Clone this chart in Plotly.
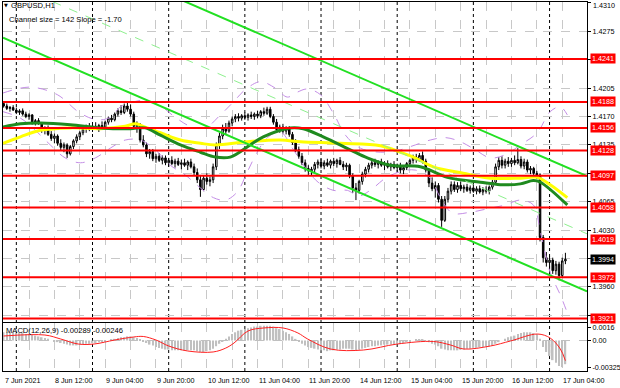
import plotly.graph_objects as go

# ---------------- data ----------------
bar_index = list(range(-4, 174))          # H1 bars, 0 = 8 Jun 00:00
first_open_pips = 14186
close_pips = [14183,14180,14181,14178,14175,14177,14173,14170,14172,14162,14165,14161,14153,14156,14148,14143,14146,14137,14132,14135,
              14124,14133,14140,14145,14150,14155,14157,14154,14158,14156,14159,14157,14163,14168,14166,14173,14177,14175,14183,14179,
              14173,14158,14160,14141,14135,14124,14127,14118,14121,14116,14119,14113,14116,14112,14115,14111,14113,14110,14114,14108,
              14101,14092,14080,14094,14090,14092,14108,14135,14146,14155,14152,14162,14167,14170,14168,14171,14169,14172,14170,14173,
              14171,14176,14174,14179,14170,14163,14154,14157,14152,14155,14148,14138,14129,14121,14113,14106,14103,14105,14111,14114,
              14109,14113,14110,14115,14112,14116,14111,14108,14110,14097,14082,14079,14090,14099,14105,14110,14113,14111,14114,14110,
              14112,14108,14111,14107,14109,14104,14107,14112,14116,14120,14117,14122,14115,14104,14088,14081,14085,14068,14042,14068,
              14078,14086,14080,14085,14081,14083,14079,14082,14078,14081,14077,14080,14078,14083,14089,14108,14116,14110,14115,14112,
              14116,14113,14117,14109,14114,14104,14106,14100,14098,14021,13996,13990,13993,13980,13988,13974,13992,13994]
high_pips = [14189,14186,14183,14184,14181,14179,14180,14176,14174,14173,14167,14168,14163,14158,14159,14152,14149,14148,14142,14138,
             14137,14135,14142,14148,14152,14158,14160,14162,14160,14163,14161,14164,14165,14170,14172,14175,14180,14184,14186,14188,
             14185,14176,14164,14162,14147,14138,14130,14130,14124,14125,14122,14122,14119,14121,14118,14119,14117,14118,14116,14118,
             14112,14106,14097,14097,14100,14096,14112,14138,14150,14160,14162,14165,14170,14173,14174,14173,14175,14174,14176,14175,
             14177,14178,14181,14182,14182,14173,14167,14160,14161,14158,14158,14151,14142,14133,14125,14117,14110,14108,14114,14117,
             14118,14116,14118,14117,14119,14118,14120,14115,14113,14112,14100,14088,14092,14102,14108,14113,14117,14118,14116,14118,
             14115,14116,14113,14115,14112,14113,14110,14114,14118,14123,14124,14125,14127,14118,14106,14095,14090,14088,14072,14072,
             14082,14090,14090,14089,14090,14086,14087,14085,14086,14084,14085,14083,14084,14085,14092,14112,14120,14121,14118,14120,
             14119,14122,14131,14121,14118,14117,14109,14108,14103,14100,14024,14003,13998,13996,13992,13991,13996,14002]
low_pips = [14181,14178,14176,14177,14173,14172,14171,14168,14166,14160,14159,14160,14150,14148,14146,14140,14137,14134,14128,14126,
            14119,14122,14130,14137,14141,14147,14150,14152,14151,14154,14151,14155,14154,14160,14163,14164,14170,14172,14173,14176,
            14170,14155,14150,14138,14132,14120,14118,14115,14113,14114,14111,14110,14108,14110,14107,14109,14105,14108,14104,14106,
            14098,14088,14071,14078,14086,14084,14088,14104,14130,14142,14148,14150,14158,14163,14164,14165,14166,14165,14167,14166,
            14168,14168,14171,14172,14168,14160,14150,14150,14149,14148,14145,14135,14126,14118,14110,14102,14098,14097,14101,14106,
            14106,14105,14108,14106,14109,14107,14110,14104,14103,14094,14076,14067,14075,14086,14095,14101,14106,14108,14106,14108,
            14104,14106,14103,14105,14102,14100,14099,14104,14108,14112,14113,14114,14112,14101,14083,14078,14070,14064,14034,14040,
            14064,14074,14077,14076,14078,14076,14077,14075,14076,14074,14075,14073,14075,14074,14080,14087,14104,14106,14106,14108,
            14108,14110,14111,14106,14105,14101,14099,14097,14093,14016,13990,13985,13978,13976,13975,13968,13972,13988]

macd_hist_e4 = [10,10,10,9,9, 9,9,8,8,7, 6,5,4,3, 2,0,-1,-2,-3,-4,-5,-6,-6, -6,-5,-5,-4,-4,-3,
                -3,-2,-2,-1,0,1,2,3,4,4,5,5,4, 3,1,-1,-3,-5,-6,-8,-9,
                -10,-11,-11,-12,-12,-12,-12,-12,-12,-12,-12,-13,-14,-14,-13,-12,-10,-7,-4,
                -1,2,5,8,10, 12,13,14,15,16,17,17,18,18,18,18,17,15,14,12,
                10,8,5,2,-1,-4,-6,-8,-9, -10,-11,-12,-12,-13,-12,-12,-11,
                -11,-10,-10,-10,-11,-12,-11,-10,-9,-8,-7,-7,-6,-6,-5,-5,-5,-5,-4,
                -4,-3,-2,-1,0,1,1,1,0,-2,-4,-5,-7, -10,-11,-12,-12,
                -12,-12,-11,-11,-10,-10,-9,-9,-8,-8,-7,-7,-6,-4,-2,
                0,2,4,5,6,8,9,10,10,10,9,8,2, -8,-14,-19,-24,-27,-31,-32.5,-28.9]
signal_bars = [-4, 9, 14, 19.5, 24.5, 31, 37, 40, 44, 48, 54, 62, 66, 68.6, 73, 78, 84, 88.7, 91.8,
               99, 109.4, 120, 131.4, 136.8, 141, 149.4, 155.7, 164.2, 168.2, 171.4, 173]
signal_e4 = [5.5, 6.7, 1.8, -4.3, -4.3, 0.6, 4.3, 4.9, 0.6, -6.7, -12.8, -14, -9.2, -3, 11.6, 15.3, 15.3, 9.2, 1.8,
             -10.4, -11.6, -4.3, -1.2, -5.5, -10.4, -6.7, -0.6, 7.9, 3, -10.4, -24.6]

yellow_ma_bars = [-4.2, 1.3, 7.6, 17, 26.5, 34.3, 37.5, 40.6, 45.4, 51.7, 58, 62.7, 72.8, 83.2, 89.5, 102.1, 114.7,
                  121, 125.1, 131.4, 140.8, 149.3, 158.8, 164.1, 168.2, 173.6]
yellow_ma_pips = [14137, 14145, 14153, 14156, 14155, 14158, 14161, 14157, 14150, 14141, 14137, 14135, 14139, 14141, 14139,
                  14137, 14134, 14126, 14120, 14108, 14100, 14094, 14094, 14095, 14086, 14070]
green_ma_bars = [-4.2, 1.3, 7.6, 17, 26.5, 35.9, 40.6, 45.4, 51.7, 58, 62.7, 67.4, 73.7, 77.8, 86.3, 90.4, 96.7, 105.2,
                 110.6, 117.8, 127.3, 135.8, 146.2, 152.5, 158.8, 162.9, 165.1, 173.6]
green_ma_pips = [14157, 14161, 14162, 14160, 14156, 14155, 14156, 14147, 14135, 14126, 14120, 14120, 14135, 14145, 14156,
                 14155, 14145, 14129, 14119, 14110, 14108, 14095, 14089, 14086, 14087, 14091, 14089, 14061]

bb_upper_bars = [-4.2, 1.3, 5.4, 12.9, 20.2, 25.5, 29.6, 32.8, 36.9, 40.6, 45.4, 50.1, 54.8, 59.5, 64.3, 68.4, 72.1, 76.9,
                 81.6, 85.4, 88.5, 91.7, 95.8, 99.9, 103.7, 108.4, 114.7, 121, 125.7, 130.4, 135.2, 139.9, 144.6, 149.3,
                 154.1, 158.8, 164.1, 168.2, 171.4, 173.6]
bb_upper_pips = [14199, 14205, 14206, 14197, 14174, 14166, 14169, 14182, 14188, 14190, 14183, 14169, 14158, 14156, 14172,
                 14188, 14203, 14213, 14205, 14194, 14200, 14204, 14197, 14174, 14147, 14131, 14126, 14129, 14135, 14141,
                 14144, 14139, 14129, 14119, 14123, 14135, 14150, 14176, 14182, 14172]
bb_lower_bars = [-4.2, 1.3, 6, 10.7, 15.4, 20.2, 24.9, 29.6, 34.3, 39.1, 43.8, 48.5, 53.2, 58, 62.1, 65.9, 69.6, 72.8,
                 75.9, 79.1, 83.2, 87.3, 91.1, 95.1, 99.9, 104.3, 107.8, 111.5, 116.3, 121, 125.7, 130.4, 133.6, 137.4,
                 143, 149.3, 154.1, 158.8, 162.9, 165.1, 168.2, 171.4, 173.6]
bb_lower_pips = [14176, 14168, 14153, 14135, 14119, 14113, 14119, 14131, 14141, 14141, 14129, 14110, 14098, 14082, 14070,
                 14067, 14077, 14102, 14126, 14144, 14151, 14129, 14107, 14089, 14079, 14079, 14072, 14079, 14094, 14102,
                 14104, 14094, 14070, 14051, 14052, 14057, 14061, 14067, 14061, 14028, 13978, 13950, 13928]

channel_lower_at_bar0 = 1.42601
channel_slope_per_bar = -0.000170
channel_size = 0.0142

levels = [1.4241, 1.4188, 1.4156, 1.4128, 1.4097, 1.4058, 1.4019, 1.3972, 1.3921]
current_price = 1.3994
top_price_label = "1.4310"
price_ticks = [1.4310, 1.4275, 1.4240, 1.4205, 1.4170, 1.4135, 1.4100, 1.4065, 1.4030, 1.3995, 1.3960, 1.3925]
price_tick_text = ["", "1.4275", "", "1.4205", "1.4170", "1.4135", "", "1.4065", "1.4030", "", "1.3960", ""]
macd_ticks = [0.0016, 0.0, -0.00325]
macd_tick_text = ["0.0016", "0.00", "-0.00325"]
time_label_bars = [-4, 12, 28, 44, 60, 76, 92, 108, 124, 140, 156, 172]
time_labels = ["7 Jun 2021", "8 Jun 12:00", "9 Jun 04:00", "9 Jun 20:00", "10 Jun 12:00", "11 Jun 04:00",
               "11 Jun 20:00", "14 Jun 12:00", "15 Jun 04:00", "15 Jun 20:00", "16 Jun 12:00", "17 Jun 04:00"]
grid_bars = list(range(-4, 181, 8))
day_start_bars = [0, 24, 48, 72, 96, 120, 144, 168]

# ---------------- derived ----------------
W, H = 620, 388
def py(px):  # pixel row -> paper fraction
    return 1 - px / H
XR = [-4.2, 179.8]
XD = [3 / W, 587 / W]
closes = [p / 1e4 for p in close_pips]
opens = [first_open_pips / 1e4] + closes[:-1]
highs = [p / 1e4 for p in high_pips]
lows = [p / 1e4 for p in low_pips]
FONT = "Liberation Sans"

fig = go.Figure()
band_style = dict(color="#c48ee6", width=1, dash="dash", shape="spline")
fig.add_trace(go.Scatter(x=bb_upper_bars, y=[p / 1e4 for p in bb_upper_pips], mode="lines", line=band_style))
fig.add_trace(go.Scatter(x=bb_lower_bars, y=[p / 1e4 for p in bb_lower_pips], mode="lines", line=band_style))
fig.add_trace(go.Candlestick(x=bar_index, open=opens, high=highs, low=lows, close=closes,
                             increasing=dict(line=dict(color="black", width=1), fillcolor="white"),
                             decreasing=dict(line=dict(color="black", width=1), fillcolor="black"),
                             whiskerwidth=0))
fig.add_trace(go.Scatter(x=yellow_ma_bars, y=[p / 1e4 for p in yellow_ma_pips], mode="lines",
                         line=dict(color="#ffff00", width=3, shape="spline")))
fig.add_trace(go.Scatter(x=green_ma_bars, y=[p / 1e4 for p in green_ma_pips], mode="lines",
                         line=dict(color="#1f8a1f", width=3, shape="spline")))
for off, dash, col, w in [(0.0, "solid", "#22e022", 2), (channel_size, "solid", "#22e022", 2),
                          (channel_size / 2, "dash", "#8ef08e", 1)]:
    fig.add_trace(go.Scatter(x=XR, y=[channel_lower_at_bar0 + off + channel_slope_per_bar * b for b in XR],
                             mode="lines", line=dict(color=col, width=w, dash=dash)))
fig.add_trace(go.Bar(x=bar_index, y=[v / 1e4 for v in macd_hist_e4], marker=dict(color="#c0c0c0", line=dict(width=0)),
                     width=0.5, xaxis="x2", yaxis="y2"))
fig.add_trace(go.Scatter(x=signal_bars, y=[v / 1e4 for v in signal_e4], mode="lines",
                         line=dict(color="#ff2020", width=1, shape="spline"), xaxis="x2", yaxis="y2"))

axis_common = dict(showline=True, mirror=True, linecolor="black", linewidth=1, zeroline=False, fixedrange=True,
                   automargin=False)
fig.update_layout(
    width=W, height=H, margin=dict(l=0, r=0, t=0, b=0, autoexpand=False), paper_bgcolor="white",
    plot_bgcolor="white", showlegend=False, hovermode=False,
    xaxis=dict(domain=XD, range=XR, anchor="y", tickmode="array", tickvals=grid_bars, showticklabels=False, ticks="",
               showgrid=True, gridcolor="#c8c8c8", griddash="dash", gridwidth=1, rangeslider=dict(visible=False),
               **axis_common),
    yaxis=dict(domain=[py(322), py(2)], range=[1.39167, 1.43112], side="right", anchor="x", tickmode="array",
               tickvals=price_ticks, ticktext=price_tick_text, ticks="outside", ticklen=3, tickcolor="black",
               ticklabeloverflow="allow",
               tickfont=dict(family=FONT, size=7.2, color="black"), showgrid=True, gridcolor="#c8c8c8",
               griddash="dash", gridwidth=1, **axis_common),
    xaxis2=dict(domain=XD, range=XR, anchor="y2", matches="x", tickmode="array", tickvals=grid_bars,
                showticklabels=False, ticks="", showgrid=True, gridcolor="#c8c8c8", griddash="dash", gridwidth=1,
                **axis_common),
    yaxis2=dict(domain=[py(371), py(323)], range=[-0.003721, 0.002135], side="right", anchor="x2", tickmode="array",
                tickvals=macd_ticks, ticktext=macd_tick_text, ticks="outside", ticklen=3, tickcolor="black",
                ticklabeloverflow="allow",
                tickfont=dict(family=FONT, size=7.2, color="black"), showgrid=False, **axis_common),
)

# day separators
for b in day_start_bars:
    fig.add_shape(type="line", xref="x", yref="paper", x0=b, x1=b, y0=py(371), y1=py(2),
                  line=dict(color="black", width=1, dash="dot"), layer="below")
# macd zero line
fig.add_shape(type="line", xref="x2 domain", yref="y2", x0=0, x1=1, y0=0, y1=0,
              line=dict(color="#c0c0c0", width=1, dash="dash"), layer="below")
# horizontal levels
for lv in levels:
    fig.add_shape(type="line", xref="x domain", yref="y", x0=0, x1=1, y0=lv, y1=lv,
                  line=dict(color="#ff0000", width=2), layer="above")
    fig.add_annotation(x=590 / W, xref="paper", xanchor="left", y=lv, yref="y", yanchor="middle",
                       text=f"{lv:.4f}", showarrow=False, bgcolor="#ff0000", borderpad=0, width=24, height=9,
                       font=dict(color="white", family=FONT, size=7.2))
fig.add_annotation(x=590 / W, xref="paper", xanchor="left", y=current_price, yref="y", yanchor="middle",
                   text=f"{current_price:.4f}", showarrow=False, bgcolor="#000000", borderpad=0, width=24, height=9,
                   font=dict(color="white", family=FONT, size=7.2))
# top price label (kept fully inside the picture)
fig.add_annotation(x=592 / W, xref="paper", xanchor="left", y=py(6), yref="paper", yanchor="middle",
                   text=top_price_label, showarrow=False, borderpad=0,
                   font=dict(color="black", family=FONT, size=7.2))

# time labels
for b, t in zip(time_label_bars, time_labels):
    fig.add_annotation(x=b, xref="x2", xanchor="left", y=py(380), yref="paper", yanchor="middle", text=t,
                       showarrow=False, borderpad=0, font=dict(color="black", family=FONT, size=7.2))

# texts
fig.add_annotation(x=3 / W, xref="paper", xanchor="left", y=py(5.5), yref="paper", yanchor="middle", text="▼",
                   showarrow=False, borderpad=0, font=dict(color="black", family="DejaVu Sans", size=5))
fig.add_annotation(x=10 / W, xref="paper", xanchor="left", y=py(6), yref="paper", yanchor="middle",
                   text="GBPUSD,H1", showarrow=False, borderpad=0, font=dict(color="black", family=FONT, size=7.6))
fig.add_annotation(x=8 / W, xref="paper", xanchor="left", y=py(19), yref="paper", yanchor="middle",
                   text="Channel size = 142 Slope = -1.70", showarrow=False, borderpad=0,
                   font=dict(color="black", family=FONT, size=7.6))
fig.add_annotation(x=5 / W, xref="paper", xanchor="left", y=py(330), yref="paper", yanchor="middle",
                   text="MACD(12,26,9) -0.00289 -0.00246", showarrow=False, borderpad=0,
                   font=dict(color="black", family=FONT, size=7.6))

fig.write_html("out.html", config={"displayModeBar": False},
               post_script="document.body.style.margin='0';document.body.style.overflow='hidden';")
